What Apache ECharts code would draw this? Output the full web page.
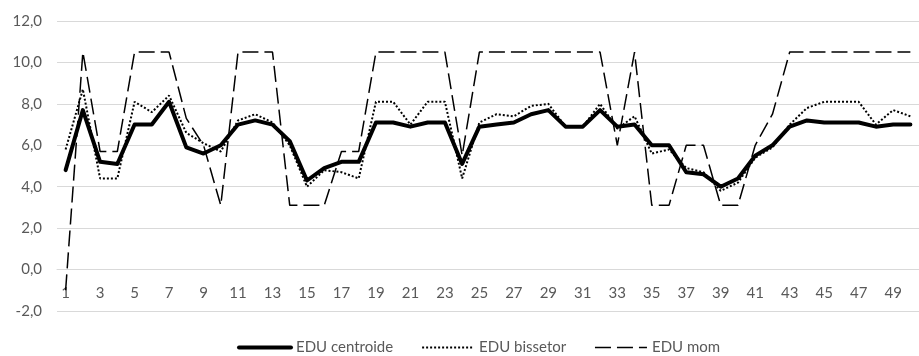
<!DOCTYPE html>
<html>
<head>
<meta charset="utf-8">
<script src="https://cdn.jsdelivr.net/npm/echarts@6/dist/echarts.min.js"></script>
<style>
html,body{margin:0;padding:0;background:#fff;}
#chart{width:919px;height:356px;}
</style>
</head>
<body>
<div id="chart"></div>
<script>
var categories = [];
for (var i = 1; i <= 50; i++) categories.push(String(i));

var seriesNames = ['EDU centroide', 'EDU bissetor', 'EDU mom'];

var centroide = [4.8, 7.7, 5.2, 5.1, 7.0, 7.0, 8.1, 5.9, 5.6, 6.0,
                 7.0, 7.2, 7.0, 6.2, 4.3, 4.9, 5.2, 5.2, 7.1, 7.1,
                 6.9, 7.1, 7.1, 5.1, 6.9, 7.0, 7.1, 7.5, 7.7, 6.9,
                 6.9, 7.7, 6.9, 7.0, 6.0, 6.0, 4.7, 4.6, 4.0, 4.4,
                 5.5, 6.0, 6.9, 7.2, 7.1, 7.1, 7.1, 6.9, 7.0, 7.0];

var bissetor = [5.8, 8.7, 4.4, 4.4, 8.1, 7.6, 8.4, 6.6, 6.1, 5.7,
                7.2, 7.5, 7.1, 6.0, 4.0, 4.8, 4.7, 4.4, 8.1, 8.1,
                7.0, 8.1, 8.1, 4.4, 7.1, 7.5, 7.4, 7.9, 8.0, 6.9,
                6.9, 8.0, 6.8, 7.4, 5.6, 5.8, 4.9, 4.7, 3.8, 4.2,
                5.4, 5.9, 7.0, 7.8, 8.1, 8.1, 8.1, 7.0, 7.7, 7.4];

var mom = [-1.0, 10.5, 5.7, 5.7, 10.5, 10.5, 10.5, 7.3, 6.0, 3.1,
           10.5, 10.5, 10.5, 3.1, 3.1, 3.1, 5.7, 5.7, 10.5, 10.5,
           10.5, 10.5, 10.5, 5.5, 10.5, 10.5, 10.5, 10.5, 10.5, 10.5,
           10.5, 10.5, 6.0, 10.5, 3.1, 3.1, 6.0, 6.0, 3.1, 3.1,
           6.0, 7.5, 10.5, 10.5, 10.5, 10.5, 10.5, 10.5, 10.5, 10.5];

var yMin = -2, yMax = 12, yStep = 2;

var textColor = '#595959';
var fontFam = 'Lato, "Open Sans", sans-serif';

var gridTop = 21, gridBottom = 45, chartH = 356;
var plotH = chartH - gridTop - gridBottom;
var zeroOffset = -plotH * (0 - yMin) / (yMax - yMin);

var chart = echarts.init(document.getElementById('chart'), null, {renderer: 'canvas'});
chart.setOption({
  animation: false,
  backgroundColor: '#ffffff',
  grid: {left: 57, right: -14, top: gridTop, bottom: gridBottom, containLabel: false},
  legend: {
    top: 335,
    left: 232,
    itemWidth: 52,
    itemHeight: 14,
    itemGap: 28,
    itemStyle: {color: 'rgba(0,0,0,0)', borderColor: 'rgba(0,0,0,0)', borderWidth: 0},
    lineStyle: {width: 'inherit', type: 'inherit', color: 'inherit'},
    textStyle: {color: textColor, fontSize: 15, fontFamily: fontFam},
    data: seriesNames
  },
  xAxis: {
    type: 'category',
    data: categories,
    boundaryGap: true,
    offset: zeroOffset,
    axisLine: {onZero: false, lineStyle: {color: '#d9d9d9', width: 1}},
    axisTick: {show: false},
    axisLabel: {interval: 1, color: textColor, fontSize: 15, fontFamily: fontFam, margin: 16},
    splitLine: {show: false}
  },
  yAxis: {
    type: 'value',
    min: yMin, max: yMax, interval: yStep,
    axisLine: {show: false},
    axisTick: {show: false},
    axisLabel: {
      color: textColor, fontSize: 15, fontFamily: fontFam, margin: 15,
      formatter: function (v) { return v.toFixed(1).replace('.', ','); }
    },
    splitLine: {lineStyle: {color: '#d9d9d9', width: 1}}
  },
  series: [
    {
      name: seriesNames[0], type: 'line', data: centroide,
      symbol: 'none', color: '#000',
      lineStyle: {color: '#000', width: 4, join: 'round', cap: 'round'}
    },
    {
      name: seriesNames[1], type: 'line', data: bissetor,
      symbol: 'none', color: '#000',
      lineStyle: {color: '#000', width: 2, type: [2, 2]}
    },
    {
      name: seriesNames[2], type: 'line', data: mom,
      symbol: 'none', color: '#000',
      lineStyle: {color: '#000', width: 1.5, type: [16, 6]}
    }
  ]
});
</script>
</body>
</html>
